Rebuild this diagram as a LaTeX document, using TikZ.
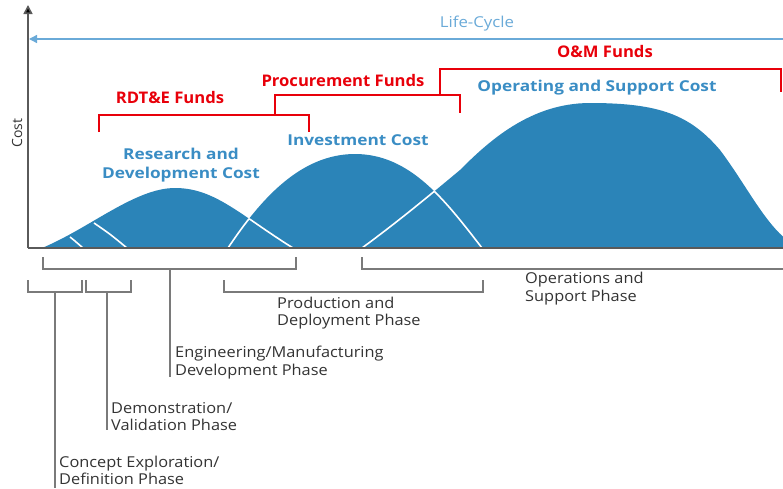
\documentclass[tikz,border=0pt]{standalone}
\usepackage{fontspec}
\setmainfont{Open Sans}
\usetikzlibrary{arrows.meta}
\definecolor{areablue}{HTML}{2B84B8}
\definecolor{labelblue}{HTML}{3A8DC4}
\definecolor{lifeblue}{HTML}{6AAAD8}
\definecolor{fundred}{HTML}{E8000A}
\definecolor{axisgray}{HTML}{5A5A5A}
\definecolor{brgray}{HTML}{7A7A7A}
\definecolor{txtgray}{HTML}{333333}
\tikzset{
  costlabel/.style={font=\fontsize{15}{19}\selectfont\bfseries, text=labelblue, align=center, inner sep=0pt, xscale=1.15},
  fundlabel/.style={font=\fontsize{16}{19}\selectfont\bfseries, text=fundred, inner sep=0pt, xscale=1.04},
  phaselabel/.style={font=\fontsize{15}{17.5}\selectfont, text=txtgray, align=left, anchor=west, inner sep=0pt, xscale=1.09},
  fundline/.style={draw=fundred, line width=2.3pt},
  brline/.style={draw=brgray, line width=1.2pt},
  whiteline/.style={draw=white, line width=1.6pt},
}
\def\curveA{(42,248) .. controls (90,228) and (135,188) .. (175,188) .. controls (215,188) and (240,215) .. (293,248)}
\def\curveB{(228,248) .. controls (260,200) and (300,154) .. (355,154) .. controls (410,154) and (445,200) .. (482,248)}
\def\curveC{(362,248) .. controls (400,220) and (430,195) .. (460,170) .. controls (488,142) and (530,103) .. (590,103) .. controls (660,103) and (690,115) .. (720,150) .. controls (750,190) and (770,235) .. (800,248)}
\begin{document}
\begin{tikzpicture}[x=1pt,y=-1pt]
\useasboundingbox (0,0) rectangle (783,488);
\clip (0,0) rectangle (783,488);
% areas
\fill[areablue] \curveA -- cycle;
\fill[areablue] \curveB -- cycle;
\fill[areablue] \curveC -- cycle;
\begin{scope}
  \clip \curveA -- cycle;
  \draw[whiteline] \curveB;
\end{scope}
\begin{scope}
  \clip \curveB -- cycle;
  \draw[whiteline] \curveA;
  \draw[whiteline] \curveC;
\end{scope}
\begin{scope}
  \clip \curveC -- cycle;
  \draw[whiteline] \curveB;
\end{scope}
% small phase boundaries
\coordinate (w1a) at (70,237); \coordinate (w1b) at (83,248);
\coordinate (w2a) at (94,223); \coordinate (w2b) at (127,248);
\draw[whiteline] (w1a) .. controls (75,241) .. (w1b);
\draw[whiteline] (w2a) .. controls (110,234) .. (w2b);
% axes
\coordinate (origin) at (28,248);
\coordinate (ytop) at (28,5);
\coordinate (xend) at (783,248);
\draw[axisgray, line width=1.6pt] (origin) -- (xend);
\draw[axisgray, line width=1.6pt, -{Triangle[length=9pt,width=9pt,fill=black]}] (origin) -- (ytop);
\node[rotate=90, font=\fontsize{14}{16}\selectfont, text=txtgray, inner sep=0pt] (cost) at (17,133) {Cost};
% life-cycle
\coordinate (lcR) at (783,39);
\coordinate (lcL) at (29,39);
\draw[lifeblue, line width=1.3pt, -{Triangle[length=8pt,width=8pt]}] (lcR) -- (lcL);
\node[font=\fontsize{15}{18}\selectfont, text=lifeblue, inner sep=0pt, xscale=1.12] (lc) at (477,24) {Life-Cycle};
% funds brackets
\coordinate (r1) at (99,132); \coordinate (r2) at (99,115); \coordinate (r3) at (309,115); \coordinate (r4) at (309,132);
\draw[fundline] (r1) -- (r2) -- (r3) -- (r4);
\coordinate (p1) at (275,115); \coordinate (p2) at (275,95); \coordinate (p3) at (460,95); \coordinate (p4) at (460,113);
\draw[fundline] (p1) -- (p2) -- (p3) -- (p4);
\coordinate (o1) at (440,95); \coordinate (o2) at (440,69); \coordinate (o3) at (781,69); \coordinate (o4) at (781,92);
\draw[fundline] (o1) -- (o2) -- (o3) -- (o4);
\node[fundlabel] (rdte) at (170,97) {RDT\&E Funds};
\node[fundlabel] (proc) at (343,80) {Procurement Funds};
\node[fundlabel] (om) at (605,51) {O\&M Funds};
% cost labels
\node[costlabel] (rd) at (181,165.5) {Research and\\Development Cost};
\node[costlabel] (inv) at (358,140) {Investment Cost};
\node[costlabel] (os) at (597,88) {Operating and Support Cost};
% phase brackets
\coordinate (a1) at (43,257); \coordinate (a2) at (43,269); \coordinate (a3) at (296,269); \coordinate (a4) at (296,257);
\draw[brline] (a1) -- (a2) -- (a3) -- (a4);
\coordinate (b1) at (362,257); \coordinate (b2) at (362,269); \coordinate (b3) at (783,269);
\draw[brline] (b1) -- (b2) -- (b3);
\coordinate (c1) at (224,280); \coordinate (c2) at (224,292); \coordinate (c3) at (483,292); \coordinate (c4) at (483,280);
\draw[brline] (c1) -- (c2) -- (c3) -- (c4);
\coordinate (d1) at (28,280); \coordinate (d2) at (28,292); \coordinate (d3) at (82,292); \coordinate (d4) at (82,280);
\draw[brline] (d1) -- (d2) -- (d3) -- (d4);
\coordinate (e1) at (86,280); \coordinate (e2) at (86,292); \coordinate (e3) at (131,292); \coordinate (e4) at (131,280);
\draw[brline] (e1) -- (e2) -- (e3) -- (e4);
% stems
\coordinate (sA) at (170,269); \coordinate (sAe) at (170,377);
\draw[brline] (sA) -- (sAe);
\coordinate (sD) at (55,292); \coordinate (sDe) at (55,488);
\draw[brline] (sD) -- (sDe);
\coordinate (sE) at (107,292); \coordinate (sEe) at (107,430);
\draw[brline] (sE) -- (sEe);
% phase labels
\node[phaselabel] (eng) at (175,362.5) {Engineering/Manufacturing\\Development Phase};
\node[phaselabel] (prod) at (277,313) {Production and\\Deployment Phase};
\node[phaselabel] (ops) at (525,288.5) {Operations and\\Support Phase};
\node[phaselabel] (demo) at (111,416.5) {Demonstration/\\Validation Phase};
\node[phaselabel] (conc) at (59,470.5) {Concept Exploration/\\Definition Phase};
\end{tikzpicture}
\end{document}
